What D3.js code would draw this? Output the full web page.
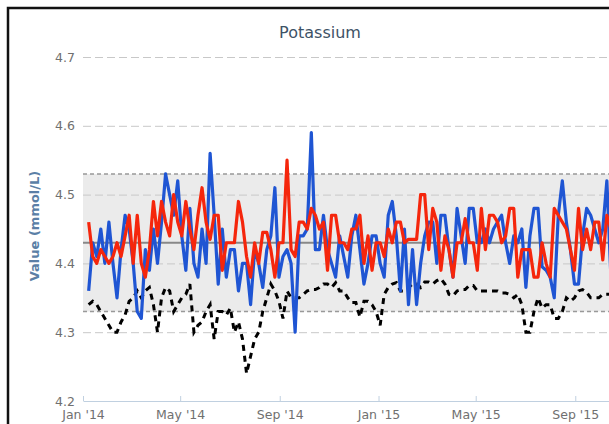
<!DOCTYPE html>
<html>
<head>
<meta charset="utf-8">
<script src="https://cdn.jsdelivr.net/npm/d3@7"></script>
<style>
  body { margin: 0; background: #fff; }
  svg { display: block; font-family: "DejaVu Sans", sans-serif; }
</style>
</head>
<body>
<svg width="609" height="424"></svg>
<script>
const titleText = 'Potassium';
const yAxisLabelText = 'Value (mmol/L)';

// readings taken every 5 days from 8 Jan 2014
const dates = d3.timeDay.range(new Date(2014, 0, 8), new Date(2015, 9, 16), 5);

const blueValues = [
  4.36, 4.43, 4.41, 4.45, 4.40, 4.46, 4.40, 4.35, 4.42, 4.47,
  4.45, 4.40, 4.33, 4.32, 4.42, 4.39, 4.45, 4.40, 4.46, 4.53,
  4.50, 4.47, 4.52, 4.44, 4.39, 4.48, 4.40, 4.38, 4.45, 4.40,
  4.56, 4.47, 4.37, 4.45, 4.38, 4.42, 4.42, 4.36, 4.40, 4.40,
  4.34, 4.42, 4.40, 4.365, 4.42, 4.44, 4.51, 4.38, 4.41, 4.42,
  4.40, 4.30, 4.44, 4.44, 4.45, 4.59, 4.42, 4.42, 4.47, 4.42,
  4.40, 4.38, 4.44, 4.41, 4.38, 4.44, 4.47, 4.42, 4.37, 4.40,
  4.44, 4.44, 4.40, 4.38, 4.47, 4.49, 4.44, 4.36, 4.45, 4.34,
  4.42, 4.34, 4.40, 4.44, 4.46, 4.46, 4.40, 4.47, 4.47, 4.42,
  4.38, 4.48, 4.44, 4.40, 4.48, 4.48, 4.43, 4.43, 4.45, 4.43,
  4.45, 4.46, 4.47, 4.43, 4.40, 4.44, 4.43, 4.45, 4.365, 4.44,
  4.48, 4.48, 4.395, 4.39, 4.38, 4.35, 4.47, 4.52, 4.46, 4.42,
  4.37, 4.37, 4.44, 4.48, 4.47, 4.45, 4.43, 4.45, 4.52, 4.38
];

const redValues = [
  4.46, 4.41, 4.40, 4.42, 4.41, 4.40, 4.41, 4.43, 4.41, 4.44,
  4.47, 4.40, 4.47, 4.40, 4.38, 4.42, 4.49, 4.44, 4.49, 4.46,
  4.44, 4.50, 4.46, 4.44, 4.49, 4.45, 4.42, 4.47, 4.51, 4.46,
  4.435, 4.47, 4.47, 4.39, 4.43, 4.43, 4.43, 4.49, 4.46, 4.41,
  4.38, 4.43, 4.40, 4.445, 4.445, 4.42, 4.38, 4.43, 4.43, 4.55,
  4.42, 4.41, 4.46, 4.46, 4.45, 4.48, 4.47, 4.45, 4.46, 4.39,
  4.47, 4.47, 4.43, 4.43, 4.42, 4.45, 4.45, 4.47, 4.40, 4.44,
  4.39, 4.43, 4.43, 4.41, 4.45, 4.43, 4.46, 4.46, 4.43, 4.435,
  4.435, 4.435, 4.50, 4.50, 4.42, 4.48, 4.46, 4.39, 4.44, 4.42,
  4.38, 4.43, 4.43, 4.465, 4.43, 4.43, 4.39, 4.48, 4.42, 4.47,
  4.47, 4.46, 4.43, 4.44, 4.48, 4.48, 4.38, 4.42, 4.42, 4.42,
  4.38, 4.38, 4.43, 4.40, 4.38, 4.48, 4.47, 4.46, 4.45, 4.42,
  4.39, 4.48, 4.42, 4.45, 4.42, 4.46, 4.46, 4.405, 4.47, 4.45
];

const blackValues = [
  4.34, 4.345, 4.34, 4.33, 4.32, 4.31, 4.30, 4.30, 4.315, 4.325,
  4.345, 4.35, 4.36, 4.35, 4.36, 4.365, 4.34, 4.30, 4.35, 4.365,
  4.36, 4.33, 4.34, 4.35, 4.355, 4.37, 4.30, 4.31, 4.315, 4.33,
  4.34, 4.29, 4.33, 4.33, 4.325, 4.335, 4.30, 4.315, 4.29, 4.24,
  4.265, 4.29, 4.30, 4.33, 4.35, 4.37, 4.36, 4.345, 4.32, 4.36,
  4.35, 4.35, 4.35, 4.355, 4.36, 4.362, 4.362, 4.365, 4.37, 4.37,
  4.365, 4.372, 4.36, 4.36, 4.35, 4.343, 4.343, 4.322, 4.345, 4.345,
  4.34, 4.33, 4.31, 4.355, 4.365, 4.37, 4.372, 4.36, 4.36, 4.365,
  4.37, 4.37, 4.365, 4.373, 4.373, 4.37, 4.375, 4.378, 4.37, 4.355,
  4.353, 4.36, 4.362, 4.362, 4.368, 4.368, 4.36, 4.36, 4.36, 4.36,
  4.36, 4.36, 4.357, 4.357, 4.355, 4.35, 4.355, 4.34, 4.30, 4.30,
  4.33, 4.35, 4.335, 4.34, 4.34, 4.32, 4.32, 4.33, 4.35, 4.345,
  4.35, 4.36, 4.362, 4.358, 4.35, 4.35, 4.35, 4.355, 4.355, 4.355
];

const yTicks = [4.2, 4.3, 4.4, 4.5, 4.6, 4.7];
const xTicks = [new Date(2014, 0, 1), new Date(2014, 4, 1), new Date(2014, 8, 1),
                new Date(2015, 0, 1), new Date(2015, 4, 1), new Date(2015, 8, 1)];
const bandLow = 4.33;
const bandHigh = 4.53;
const target = 4.43;

const svg = d3.select('svg');
const width = +svg.attr('width');
const height = +svg.attr('height');

const plotLeft = 83, plotTop = 57, plotBottom = 401;

const xScale = d3.scaleTime()
  .domain([new Date(2014, 0, 1), new Date(2015, 9, 25)])
  .range([plotLeft, 619]);
const yScale = d3.scaleLinear()
  .domain([4.2, 4.7])
  .range([plotBottom, plotTop]);

// outer frame
svg.append('rect')
  .attr('x', 8).attr('y', 8)
  .attr('width', width + 20).attr('height', height + 20)
  .attr('fill', 'none')
  .attr('stroke', '#111')
  .attr('stroke-width', 2.5);

svg.append('text')
  .attr('x', 320).attr('y', 38)
  .attr('text-anchor', 'middle')
  .attr('font-size', 16)
  .attr('fill', '#3d5266')
  .text(titleText);

// plot band
svg.append('rect')
  .attr('x', plotLeft)
  .attr('y', yScale(bandHigh))
  .attr('width', width - plotLeft)
  .attr('height', yScale(bandLow) - yScale(bandHigh))
  .attr('fill', '#ebebeb');

// y axis with dashed grid
const yAxisG = svg.append('g')
  .attr('transform', `translate(${plotLeft},0)`)
  .call(d3.axisLeft(yScale)
    .tickValues(yTicks)
    .tickFormat(d3.format('.1f'))
    .tickSize(-(width - plotLeft))
    .tickPadding(8));
yAxisG.select('.domain').remove();
yAxisG.selectAll('.tick line')
  .attr('stroke', '#c8c8c8')
  .attr('stroke-dasharray', '8,4')
  .filter(d => d === 4.2).remove();
yAxisG.selectAll('.tick text')
  .attr('fill', '#707070')
  .attr('font-size', 12.5)
  .attr('font-family', '"DejaVu Sans", sans-serif');

// band edges and target line
[bandHigh, bandLow].forEach(v => {
  svg.append('line')
    .attr('x1', plotLeft).attr('x2', width)
    .attr('y1', yScale(v)).attr('y2', yScale(v))
    .attr('stroke', '#999')
    .attr('stroke-width', 1.5)
    .attr('stroke-dasharray', '4,3');
});
svg.append('line')
  .attr('x1', plotLeft).attr('x2', width)
  .attr('y1', yScale(target)).attr('y2', yScale(target))
  .attr('stroke', '#888')
  .attr('stroke-width', 2);

svg.append('text')
  .attr('transform', `translate(39,226) rotate(-90)`)
  .attr('text-anchor', 'middle')
  .attr('font-size', 13)
  .attr('font-weight', 'bold')
  .attr('fill', '#5b7fa6')
  .text(yAxisLabelText);

// x axis
const xAxisG = svg.append('g')
  .attr('transform', `translate(0,${plotBottom})`)
  .call(d3.axisBottom(xScale)
    .tickValues(xTicks)
    .tickFormat(d3.timeFormat("%b '%y"))
    .tickSizeInner(-5)
    .tickSizeOuter(0)
    .tickPadding(9));
xAxisG.select('.domain').attr('stroke', '#c0d0e0');
xAxisG.selectAll('.tick line').attr('stroke', '#c0d0e0');
xAxisG.selectAll('.tick text')
  .attr('fill', '#707070')
  .attr('font-size', 12.5)
  .attr('font-family', '"DejaVu Sans", sans-serif');

const line = values => d3.line()
  .x((d, i) => xScale(dates[i]))
  .y(d => yScale(d))(values);

svg.append('path')
  .attr('d', line(blackValues))
  .attr('fill', 'none')
  .attr('stroke', '#000')
  .attr('stroke-width', 3)
  .attr('stroke-dasharray', '6,5');

svg.append('path')
  .attr('d', line(blueValues))
  .attr('fill', 'none')
  .attr('stroke', '#1f55d3')
  .attr('stroke-width', 3.2)
  .attr('stroke-linejoin', 'round');

svg.append('path')
  .attr('d', line(redValues))
  .attr('fill', 'none')
  .attr('stroke', '#f5260c')
  .attr('stroke-width', 3.2)
  .attr('stroke-linejoin', 'round');
</script>
</body>
</html>
